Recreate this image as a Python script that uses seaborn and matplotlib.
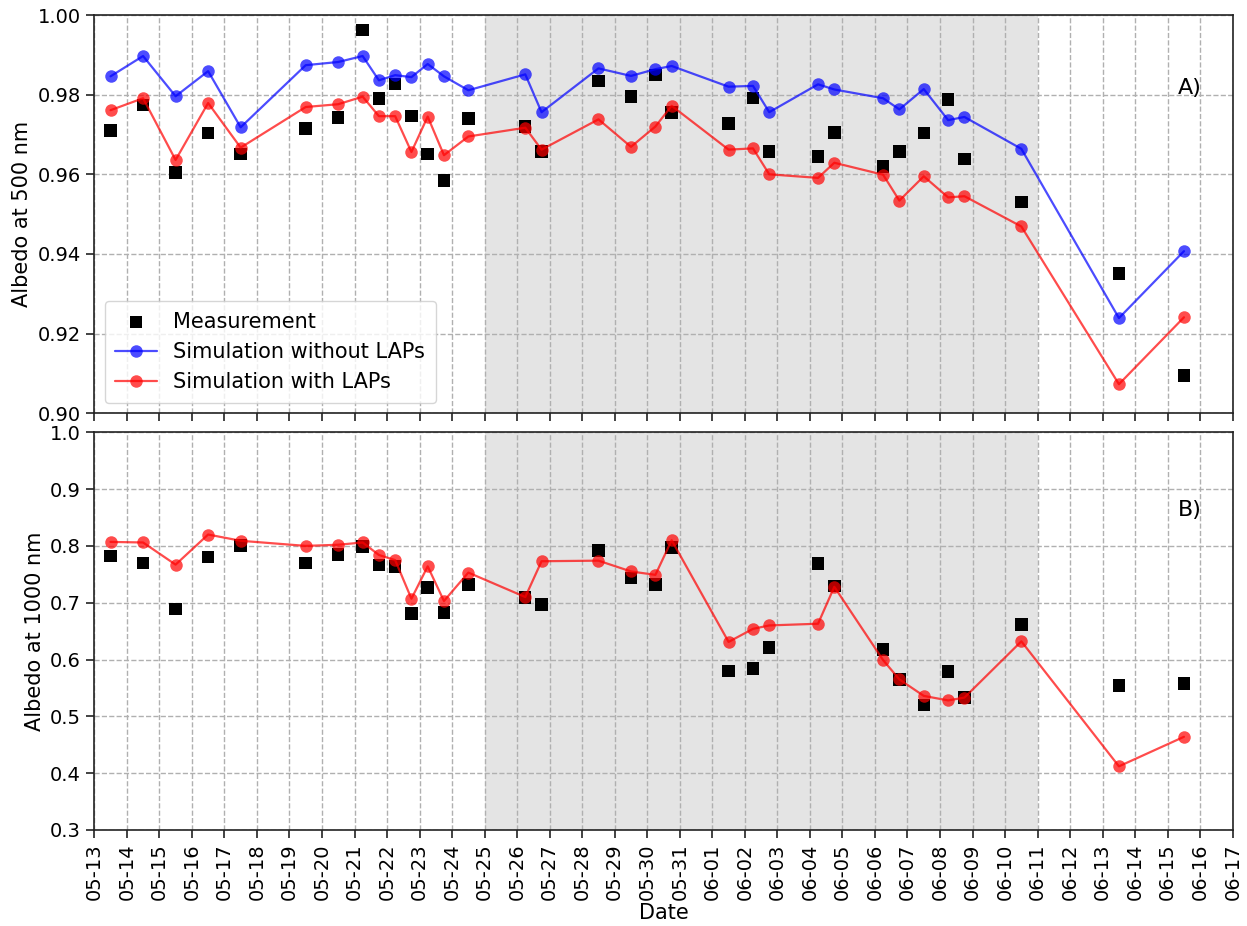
import numpy as np
import pandas as pd
import matplotlib
matplotlib.use("Agg")
import matplotlib.pyplot as plt
import matplotlib.dates as mdates
import seaborn as sns

# ---------------- data ----------------
times = [
    "2021-05-13 12:00", "2021-05-14 12:00", "2021-05-15 12:00", "2021-05-16 12:00",
    "2021-05-17 12:00", "2021-05-19 12:00", "2021-05-20 12:00", "2021-05-21 06:00",
    "2021-05-21 18:00", "2021-05-22 06:00", "2021-05-22 18:00", "2021-05-23 06:00",
    "2021-05-23 18:00", "2021-05-24 12:00", "2021-05-26 06:00", "2021-05-26 18:00",
    "2021-05-28 12:00", "2021-05-29 12:00", "2021-05-30 06:00", "2021-05-30 18:00",
    "2021-06-01 12:00", "2021-06-02 06:00", "2021-06-02 18:00", "2021-06-04 06:00",
    "2021-06-04 18:00", "2021-06-06 06:00", "2021-06-06 18:00", "2021-06-07 12:00",
    "2021-06-08 06:00", "2021-06-08 18:00", "2021-06-10 12:00", "2021-06-13 12:00",
    "2021-06-15 12:00",
]

meas_500 = [0.9710, 0.9774, 0.9605, 0.9704, 0.9651, 0.9715, 0.9743, 0.9962,
            0.9790, 0.9827, 0.9747, 0.9651, 0.9584, 0.9740, 0.9720, 0.9657,
            0.9835, 0.9795, 0.9849, 0.9755, 0.9728, 0.9792, 0.9657, 0.9645,
            0.9705, 0.9620, 0.9657, 0.9703, 0.9788, 0.9639, 0.9531, 0.9351,
            0.9095]
nolap_500 = [0.9846, 0.9897, 0.9796, 0.9859, 0.9718, 0.9874, 0.9882, 0.9897,
             0.9836, 0.9849, 0.9844, 0.9877, 0.9846, 0.9811, 0.9851, 0.9756,
             0.9866, 0.9847, 0.9864, 0.9872, 0.9820, 0.9822, 0.9756, 0.9826,
             0.9813, 0.9791, 0.9763, 0.9814, 0.9736, 0.9744, 0.9664, 0.9239,
             0.9407]
lap_500 = [0.9761, 0.9791, 0.9636, 0.9779, 0.9667, 0.9769, 0.9776, 0.9795,
           0.9746, 0.9746, 0.9656, 0.9745, 0.9648, 0.9695, 0.9717, 0.9662,
           0.9738, 0.9669, 0.9720, 0.9772, 0.9662, 0.9665, 0.9600, 0.9591,
           0.9629, 0.9599, 0.9534, 0.9595, 0.9542, 0.9545, 0.9469, 0.9073,
           0.9241]

meas_1000 = [0.782, 0.770, 0.689, 0.780, 0.801, 0.770, 0.785, 0.799,
             0.766, 0.764, 0.681, 0.727, 0.683, 0.732, 0.709, 0.697,
             0.792, 0.743, 0.732, 0.797, 0.580, 0.584, 0.621, 0.769,
             0.729, 0.618, 0.565, 0.520, 0.579, 0.533, 0.662, 0.554,
             0.558]
lap_1000 = [0.807, 0.806, 0.767, 0.820, 0.809, 0.800, 0.802, 0.806,
            0.784, 0.775, 0.707, 0.764, 0.703, 0.753, 0.710, 0.773,
            0.774, 0.755, 0.749, 0.810, 0.631, 0.654, 0.660, 0.663,
            0.728, 0.599, 0.565, 0.536, 0.528, 0.533, 0.632, 0.412,
            0.464]

shade_start = "2021-05-25"
shade_end = "2021-06-11"
x_start = "2021-05-13"
x_end = "2021-06-17"

# ---------------- plot ----------------
sns.set_theme(style="white")
plt.rcParams["font.family"] = ["DejaVu Sans"]
plt.rcParams["text.color"] = "black"
plt.rcParams["axes.labelcolor"] = "black"
plt.rcParams["xtick.color"] = "black"
plt.rcParams["ytick.color"] = "black"

dates = pd.to_datetime(times)
df = pd.DataFrame({
    "time": dates,
    "meas_500": meas_500, "nolap_500": nolap_500, "lap_500": lap_500,
    "meas_1000": meas_1000, "lap_1000": lap_1000,
})

fig = plt.figure(figsize=(12.47, 9.26), dpi=100)
axA = fig.add_axes([0.0756, 0.5537, 0.9130, 0.4301])
axB = fig.add_axes([0.0756, 0.1037, 0.9130, 0.4295], sharex=axA)

FS = 15
TFS = 14
line_kw = dict(marker="o", markersize=9, markeredgewidth=0, linewidth=1.6,
               alpha=0.7, estimator=None, sort=False)

for ax in (axA, axB):
    ax.axvspan(pd.Timestamp(shade_start), pd.Timestamp(shade_end),
               color="#bdbdbd", alpha=0.4, zorder=0, lw=0)
    ax.grid(True, linestyle="--", color="#b0b0b0", linewidth=1.0)
    ax.set_axisbelow(True)
    for s in ax.spines.values():
        s.set_color("#222222")
        s.set_linewidth(1.2)
    ax.tick_params(axis="both", direction="out", length=6, width=1.2,
                   color="#222222", labelcolor="black", labelsize=TFS,
                   left=True, bottom=True)

# Panel A
sns.scatterplot(data=df, x="time", y="meas_500", marker="s", color="black",
                s=80, edgecolor="none", ax=axA, label="Measurement", zorder=3)
sns.lineplot(data=df, x="time", y="nolap_500", color="blue", ax=axA,
             label="Simulation without LAPs", zorder=4, **line_kw)
sns.lineplot(data=df, x="time", y="lap_500", color="red", ax=axA,
             label="Simulation with LAPs", zorder=4, **line_kw)
axA.set_ylim(0.90, 1.00)
axA.set_yticks(np.arange(0.90, 1.0001, 0.02))
axA.yaxis.set_major_formatter(matplotlib.ticker.FormatStrFormatter("%.2f"))
axA.set_ylabel("Albedo at 500 nm", fontsize=FS, color="black")
axA.set_xlabel("")
axA.tick_params(axis="x", labelbottom=False)
leg = axA.legend(loc="lower left", fontsize=FS, frameon=True, borderpad=0.5,
                 handlelength=2.0)
leg.get_frame().set_edgecolor("#cccccc")
for t in leg.get_texts():
    t.set_color("black")
axA.text(0.9625, 0.817, "A)", transform=axA.transAxes, fontsize=FS + 1,
         ha="center", va="center", color="black")

# Panel B
sns.scatterplot(data=df, x="time", y="meas_1000", marker="s", color="black",
                s=80, edgecolor="none", ax=axB, zorder=3, legend=False)
sns.lineplot(data=df, x="time", y="lap_1000", color="red", ax=axB,
             zorder=4, legend=False, **line_kw)
axB.set_ylim(0.3, 1.0)
axB.set_yticks(np.arange(0.3, 1.0001, 0.1))
axB.yaxis.set_major_formatter(matplotlib.ticker.FormatStrFormatter("%.1f"))
axB.set_ylabel("Albedo at 1000 nm", fontsize=FS, color="black")
axB.set_xlabel("Date", fontsize=FS, color="black", labelpad=2)
axB.text(0.9625, 0.805, "B)", transform=axB.transAxes, fontsize=FS + 1,
         ha="center", va="center", color="black")

axB.set_xlim(pd.Timestamp(x_start), pd.Timestamp(x_end))
axB.xaxis.set_major_locator(mdates.DayLocator())
axB.xaxis.set_major_formatter(mdates.DateFormatter("%m-%d"))
plt.setp(axB.get_xticklabels(), rotation=90)

fig.savefig("out.png", dpi=100)
